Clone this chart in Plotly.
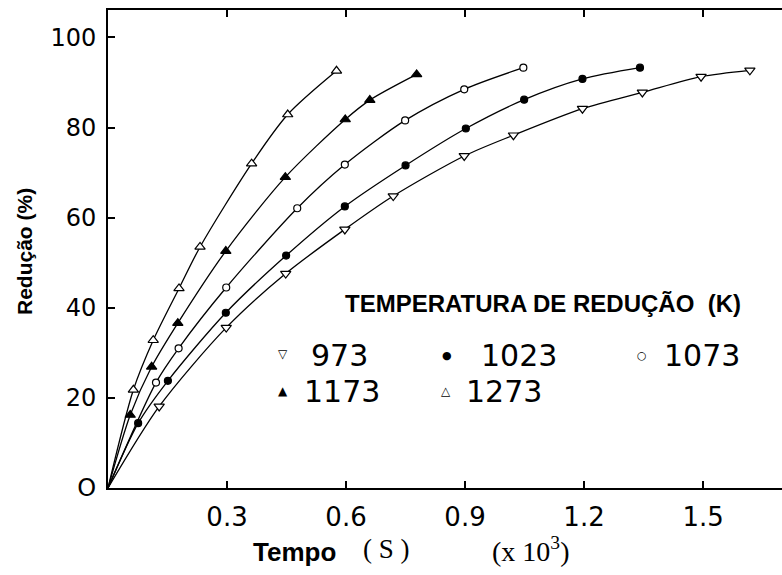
import plotly.graph_objects as go

# Reduction (%) versus time (x10^3 s) at five reduction temperatures (K)
t_973 = [0.129, 0.298, 0.448, 0.597, 0.719, 0.898, 1.022, 1.196, 1.347, 1.495, 1.618]
r_973 = [18.1, 35.6, 47.6, 57.4, 64.8, 73.7, 78.3, 84.2, 87.8, 91.3, 92.7]

t_1023 = [0.076, 0.151, 0.297, 0.449, 0.597, 0.750, 0.902, 1.049, 1.196, 1.341]
r_1023 = [14.4, 23.8, 38.9, 51.6, 62.5, 71.6, 79.8, 86.2, 90.8, 93.3]

t_1073 = [0.121, 0.178, 0.298, 0.477, 0.597, 0.749, 0.898, 1.047]
r_1073 = [23.4, 31.0, 44.5, 62.1, 71.8, 81.6, 88.5, 93.3]

t_1173 = [0.056, 0.110, 0.176, 0.297, 0.447, 0.598, 0.660, 0.778]
r_1173 = [16.2, 26.9, 36.6, 52.6, 69.0, 81.8, 86.1, 91.8]

t_1273 = [0.064, 0.114, 0.179, 0.232, 0.362, 0.453, 0.576]
r_1273 = [21.8, 32.8, 44.3, 53.5, 72.0, 82.9, 92.6]

x_ticks = [0.3, 0.6, 0.9, 1.2, 1.5]
x_tick_text = ["0.3", "0.6", "0.9", "1.2", "1.5"]
y_ticks = [0, 20, 40, 60, 80, 100]
y_tick_text = ["O", "20", "40", "60", "80", "100"]

series = [
    ("973", t_973, r_973, "triangle-down", "white", 9),
    ("1023", t_1023, r_1023, "circle", "black", 7),
    ("1073", t_1073, r_1073, "circle", "white", 7),
    ("1173", t_1173, r_1173, "triangle-up", "black", 9),
    ("1273", t_1273, r_1273, "triangle-up", "white", 9),
]

fig = go.Figure()

# smooth curves starting at the origin
for name, t, r, sym, fill, size in series:
    fig.add_trace(go.Scatter(
        x=[0] + t, y=[0] + r, mode="lines",
        line=dict(color="black", width=1.3, shape="spline", smoothing=0.8),
        showlegend=False, hoverinfo="skip",
    ))

# measured points
for name, t, r, sym, fill, size in series:
    fig.add_trace(go.Scatter(
        x=t, y=r, mode="markers", name=name,
        marker=dict(symbol=sym, size=size, color=fill,
                    line=dict(color="black", width=1.2)),
        showlegend=False,
    ))

# invisible trace carrying the top axis
fig.add_trace(go.Scatter(x=[0], y=[0], xaxis="x2", mode="markers",
                         marker=dict(opacity=0), showlegend=False, hoverinfo="skip"))

x_range = [0, 1.699]
fig.update_layout(
    width=782, height=575,
    margin=dict(l=108, r=0, t=10, b=87),
    paper_bgcolor="white", plot_bgcolor="white",
    font=dict(family="DejaVu Sans", color="black"),
    xaxis=dict(
        range=x_range, showgrid=False, zeroline=False,
        showline=True, linecolor="black", linewidth=2,
        ticks="inside", ticklen=7, tickwidth=1.5, tickcolor="black",
        tickvals=x_ticks, ticktext=x_tick_text,
        tickfont=dict(family="DejaVu Sans", size=26, color="black"),
        ticklabelstandoff=5,
    ),
    xaxis2=dict(
        range=x_range, overlaying="x", side="top", showgrid=False, zeroline=False,
        showline=True, linecolor="black", linewidth=2,
        ticks="inside", ticklen=7, tickwidth=1.5, tickcolor="black",
        tickvals=x_ticks, showticklabels=False,
    ),
    yaxis=dict(
        range=[0, 106.1], showgrid=False, zeroline=False,
        showline=True, linecolor="black", linewidth=2,
        ticks="inside", ticklen=7, tickwidth=1.5, tickcolor="black",
        tickvals=y_ticks, ticktext=y_tick_text,
        tickfont=dict(family="DejaVu Sans", size=24, color="black"),
        ticklabelstandoff=5,
    ),
)

annotations = [
    # axis titles
    dict(x=25, y=252, text="<b>Redução (%)</b>", textangle=-90,
         font=dict(family="Liberation Sans", size=21)),
    dict(x=294, y=552, text="<b>Tempo</b>", font=dict(family="Liberation Sans", size=26)),
    dict(x=386, y=549, text="( S )", font=dict(family="Liberation Serif", size=27)),
    dict(x=530, y=549, text="(x 10<sup>3</sup>)", font=dict(family="Liberation Serif", size=28)),
    # legend block
    dict(x=543, y=303, text="<b>TEMPERATURA DE REDUÇÃO  (K)</b>",
         font=dict(family="Liberation Sans", size=24)),
    dict(x=283, y=354, text="▽", font=dict(family="DejaVu Sans", size=12)),
    dict(x=339, y=355, text="973", font=dict(family="DejaVu Sans", size=30)),
    dict(x=447, y=355, text="●", font=dict(family="DejaVu Sans", size=11)),
    dict(x=519, y=355, text="1023", font=dict(family="DejaVu Sans", size=30)),
    dict(x=642, y=355, text="○", font=dict(family="DejaVu Sans", size=11)),
    dict(x=702, y=355, text="1073", font=dict(family="DejaVu Sans", size=30)),
    dict(x=283, y=391, text="▲", font=dict(family="DejaVu Sans", size=12)),
    dict(x=342, y=391, text="1173", font=dict(family="DejaVu Sans", size=30)),
    dict(x=446, y=391, text="△", font=dict(family="DejaVu Sans", size=12)),
    dict(x=504, y=391, text="1273", font=dict(family="DejaVu Sans", size=30)),
]
for a in annotations:
    a.update(xref="paper", yref="paper", showarrow=False,
             xanchor="center", yanchor="middle")
    # convert pixel positions to paper coordinates of the plot area
    a["x"] = (a["x"] - 108) / 674
    a["y"] = (575 - 87 - a["y"]) / 478
    a["font"]["color"] = "black"
fig.update_layout(annotations=annotations)

fig.write_html("out.html")
